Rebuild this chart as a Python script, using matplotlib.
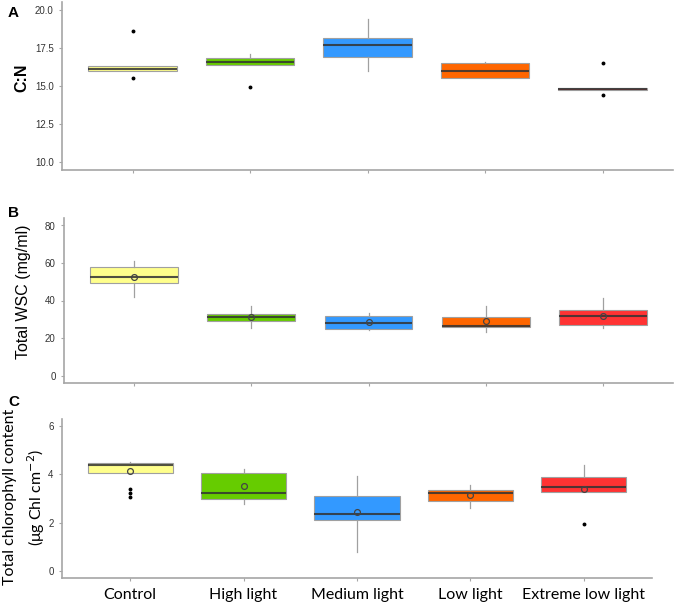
import matplotlib
matplotlib.use("Agg")
import matplotlib.pyplot as plt

groups = ["Control", "High light", "Medium light", "Low light", "Extreme low light"]
colors = ["#FFFF8C", "#66CC00", "#3399FF", "#FF6600", "#FF3333"]

# panel A: C:N  (q1, median, q3, whisker low, whisker high)
cn_q1 = [15.94, 16.34, 16.89, 15.50, 14.69]
cn_med = [16.12, 16.56, 17.65, 16.00, 14.77]
cn_q3 = [16.27, 16.82, 18.11, 16.51, 14.85]
cn_lo = [15.94, 16.34, 16.00, 15.50, 14.69]
cn_hi = [16.27, 17.08, 19.36, 16.56, 14.85]
cn_out = [[18.62, 15.48], [14.89], [], [], [16.51, 14.39]]

# panel B: total WSC
wsc_q1 = [49.2, 29.2, 24.9, 25.7, 26.9]
wsc_med = [52.4, 31.0, 27.8, 26.4, 32.0]
wsc_q3 = [57.7, 32.6, 31.8, 31.0, 34.7]
wsc_lo = [41.9, 25.1, 24.1, 23.4, 25.1]
wsc_hi = [61.2, 37.3, 33.6, 37.3, 41.6]
wsc_mean = [52.7, 31.3, 28.5, 28.9, 31.8]
wsc_out = [[], [], [], [], []]

# panel C: total chlorophyll
chl_q1 = [4.05, 2.97, 2.11, 2.91, 3.25]
chl_med = [4.40, 3.21, 2.35, 3.21, 3.48]
chl_q3 = [4.47, 4.07, 3.12, 3.35, 3.90]
chl_lo = [4.05, 2.79, 0.79, 2.62, 3.25]
chl_hi = [4.53, 4.24, 3.92, 3.56, 4.39]
chl_mean = [4.15, 3.52, 2.46, 3.14, 3.39]
chl_out = [[3.38, 3.22, 3.08], [], [], [], [1.95]]

W, H = 680, 608
fig = plt.figure(figsize=(W / 100, H / 100), dpi=100)


def px_axes(l, t, r, b):
    return fig.add_axes([l / W, 1 - b / H, (r - l) / W, (b - t) / H])


def draw_panel(ax, q1, med, q3, lo, hi, out, means=None):
    stats = []
    for i in range(len(groups)):
        s = dict(q1=q1[i], med=med[i], q3=q3[i], whislo=lo[i], whishi=hi[i],
                 fliers=out[i], label=groups[i])
        if means is not None:
            s["mean"] = means[i]
        stats.append(s)
    bp = ax.bxp(stats, positions=range(1, 6), widths=0.75, patch_artist=True,
                showcaps=False, showmeans=means is not None,
                boxprops=dict(edgecolor="#a0a0a0", linewidth=0.8),
                whiskerprops=dict(color="#a0a0a0", linewidth=0.9),
                medianprops=dict(color="#333333", linewidth=1.5, alpha=0.85),
                flierprops=dict(marker="o", markersize=1.8, markerfacecolor="black",
                                markeredgecolor="black"),
                meanprops=dict(marker="o", markersize=4.2, markerfacecolor="none",
                               markeredgecolor="#444444", markeredgewidth=0.9),
                zorder=2)
    for patch, c in zip(bp["boxes"], colors):
        patch.set_facecolor(c)
    ax.set_xlim(0.4, 5.6)
    for sp in ["top", "right"]:
        ax.spines[sp].set_visible(False)
    for sp in ["left", "bottom"]:
        ax.spines[sp].set_color("#a6a6a6")
        ax.spines[sp].set_linewidth(1.2)
    ax.tick_params(colors="#a6a6a6", length=2.5, width=0.8, labelcolor="#333333",
                   labelsize=7)


axA = px_axes(62, 2, 673, 170)
draw_panel(axA, cn_q1, cn_med, cn_q3, cn_lo, cn_hi, cn_out)
axA.set_ylim(9.47, 20.5)
axA.set_yticks([10, 12.5, 15, 17.5, 20])
axA.set_yticklabels(["10.0", "12.5", "15.0", "17.5", "20.0"], family="Liberation Sans")
axA.set_xticklabels([])

axB = px_axes(64, 218, 673, 383)
draw_panel(axB, wsc_q1, wsc_med, wsc_q3, wsc_lo, wsc_hi, wsc_out, wsc_mean)
axB.set_ylim(-4, 84)
axB.set_yticks([0, 20, 40, 60, 80])
axB.set_yticklabels(["0", "20", "40", "60", "80"], family="Liberation Sans")
axB.set_xticklabels([])

axC = px_axes(62, 419, 652, 578)
draw_panel(axC, chl_q1, chl_med, chl_q3, chl_lo, chl_hi, chl_out, chl_mean)
axC.set_ylim(-0.3, 6.3)
axC.set_yticks([0, 2, 4, 6])
axC.set_yticklabels(["0", "2", "4", "6"], family="Liberation Sans")
axC.set_xticklabels(groups, family="Lato", fontsize=11.5, color="black")
axC.tick_params(axis="x", pad=5)

# panel letters and axis titles
for letter, y in [("A", 13), ("B", 213), ("C", 402)]:
    fig.text(8 / W, 1 - y / H, letter, fontsize=11, fontweight="bold",
             family="Liberation Sans", va="center", ha="left")

fig.text(22 / W, 1 - 78 / H, "C:N", rotation=90, fontsize=11.5, fontweight="bold",
         family="Liberation Sans", ha="center", va="center")
fig.text(24 / W, 1 - 292 / H, "Total WSC (mg/ml)", rotation=90, fontsize=11.5,
         family="Liberation Sans", ha="center", va="center")
fig.text(25 / W, 1 - 497 / H, "Total chlorophyll content\n(μg Chl cm$^{-2}$)",
         rotation=90, fontsize=11.5, family="Lato", ha="center", va="center",
         multialignment="center", linespacing=1.45)

fig.savefig("out.png", dpi=100)
